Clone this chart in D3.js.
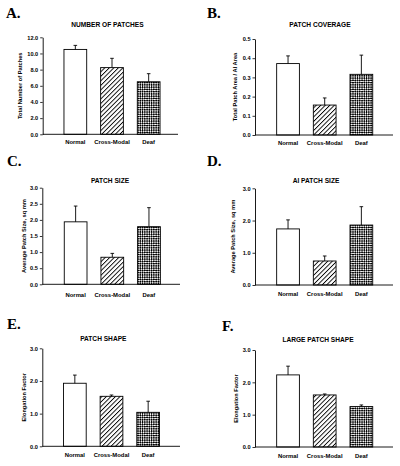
<!DOCTYPE html>
<html>
<head>
<meta charset="utf-8">
<script src="https://cdn.jsdelivr.net/npm/d3@7"></script>
<style>
  html, body { margin: 0; padding: 0; background: #fff; }
  svg { display: block; }
  text { font-family: "Liberation Sans", Arial, sans-serif; fill: #000; }
</style>
</head>
<body>
<svg id="chart" width="400" height="466"></svg>
<script>
// ---------- DATA ----------
const categories = ["Normal", "Cross-Modal", "Deaf"];

const numPatchesValues = [10.5, 8.25, 6.5];
const numPatchesErrors = [0.5, 1.15, 1.0];
const numPatchesTicks = [0, 2, 4, 6, 8, 10, 12];

const coverageValues = [0.372, 0.156, 0.316];
const coverageErrors = [0.040, 0.037, 0.100];
const coverageTicks = [0, 0.1, 0.2, 0.3, 0.4, 0.5];

const patchSizeValues = [1.94, 0.84, 1.79];
const patchSizeErrors = [0.49, 0.12, 0.59];
const patchSizeTicks = [0, 0.5, 1.0, 1.5, 2.0, 2.5, 3.0];

const aiPatchSizeValues = [1.74, 0.745, 1.86];
const aiPatchSizeErrors = [0.28, 0.155, 0.57];
const aiPatchSizeTicks = [0, 1, 2, 3];

const patchShapeValues = [1.93, 1.53, 1.04];
const patchShapeErrors = [0.25, 0.04, 0.34];
const patchShapeTicks = [0, 1, 2, 3];

const largePatchShapeValues = [2.23, 1.61, 1.25];
const largePatchShapeErrors = [0.27, 0.03, 0.05];
const largePatchShapeTicks = [0, 1, 2, 3];

const panelLetters = ["A.", "B.", "C.", "D.", "E.", "F."];
const panelTitles = ["NUMBER OF PATCHES", "PATCH COVERAGE", "PATCH SIZE", "AI PATCH SIZE", "PATCH SHAPE", "LARGE PATCH SHAPE"];
const yAxisLabels = ["Total Number of Patches", "Total Patch Area / AI Area", "Average Patch Size, sq mm", "Average Patch Size, sq mm", "Elongation Factor", "Elongation Factor"];

// ---------- LAYOUT (positions only) ----------
const layouts = [
  { ax: 42.7, top: 37.3, bottom: 134.3, r0: 57.0, xEnd: 178, titleX: 107.5, titleY: 26.5, ylabX: 20.5, lx: 6, ly: 18, xlabY: 144.0 },
  { ax: 255.0, top: 39.0, bottom: 135.0, r0: 269.7, xEnd: 393, titleX: 320, titleY: 26.5, ylabX: 235, lx: 207, ly: 18, xlabY: 145.0 },
  { ax: 42.3, top: 187.7, bottom: 284.3, r0: 57.3, xEnd: 180, titleX: 110, titleY: 182.5, ylabX: 24, lx: 7, ly: 166, xlabY: 296.5 },
  { ax: 255.0, top: 188.3, bottom: 285.0, r0: 269.7, xEnd: 393, titleX: 316, titleY: 182.5, ylabX: 233, lx: 207, ly: 166, xlabY: 295.5 },
  { ax: 42.3, top: 348.3, bottom: 446.3, r0: 56.5, xEnd: 180, titleX: 103.3, titleY: 340.5, ylabX: 24, lx: 7, ly: 328.5, xlabY: 456.5 },
  { ax: 255.0, top: 350.0, bottom: 447.0, r0: 269.7, xEnd: 393, titleX: 318, titleY: 341.5, ylabX: 236, lx: 222, ly: 331, xlabY: 457.5 }
];

const panelData = [
  { values: numPatchesValues, errors: numPatchesErrors, ticks: numPatchesTicks },
  { values: coverageValues, errors: coverageErrors, ticks: coverageTicks },
  { values: patchSizeValues, errors: patchSizeErrors, ticks: patchSizeTicks },
  { values: aiPatchSizeValues, errors: aiPatchSizeErrors, ticks: aiPatchSizeTicks },
  { values: patchShapeValues, errors: patchShapeErrors, ticks: patchShapeTicks },
  { values: largePatchShapeValues, errors: largePatchShapeErrors, ticks: largePatchShapeTicks }
];

const svg = d3.select("#chart");
const defs = svg.append("defs");

// diagonal hatch ///
const hatch = defs.append("pattern")
  .attr("id", "hatch").attr("patternUnits", "userSpaceOnUse")
  .attr("width", 3.2).attr("height", 3.2)
  .attr("patternTransform", "rotate(45)");
hatch.append("rect").attr("width", 3.2).attr("height", 3.2).attr("fill", "#fff");
hatch.append("line").attr("x1", 0).attr("y1", 0).attr("x2", 0).attr("y2", 3.2)
  .attr("stroke", "#000").attr("stroke-width", 1.8);

// checkerboard rotated 45 degrees
const checker = defs.append("pattern")
  .attr("id", "checker").attr("patternUnits", "userSpaceOnUse")
  .attr("width", 3.2).attr("height", 3.2)
  .attr("patternTransform", "rotate(45)");
checker.append("rect").attr("width", 3.2).attr("height", 3.2).attr("fill", "#fff");
checker.append("rect").attr("x", 0).attr("y", 0).attr("width", 1.75).attr("height", 1.75).attr("fill", "#000");
checker.append("rect").attr("x", 1.6).attr("y", 1.6).attr("width", 1.75).attr("height", 1.75).attr("fill", "#000");

const fills = ["#fff", "url(#hatch)", "url(#checker)"];

panelData.forEach((pd, i) => {
  const L = layouts[i];
  const g = svg.append("g");
  const maxV = pd.ticks[pd.ticks.length - 1];

  const y = d3.scaleLinear().domain([0, maxV]).range([L.bottom, L.top]);
  const x = d3.scaleBand().domain(categories)
    .range([L.r0, L.r0 + 110]).paddingInner(0.38).paddingOuter(0.19);

  // panel letter
  g.append("text").attr("x", L.lx).attr("y", L.ly)
    .style("font-family", "'Liberation Serif', 'DejaVu Serif', serif")
    .style("font-weight", "bold").style("font-size", "15px")
    .text(panelLetters[i]);

  // title
  g.append("text").attr("x", L.titleX).attr("y", L.titleY)
    .attr("text-anchor", "middle")
    .style("font-weight", "bold").style("font-size", "6.6px")
    .text(panelTitles[i]);

  // y axis
  const yAxis = d3.axisLeft(y).tickValues(pd.ticks)
    .tickFormat(d3.format(".1f")).tickSize(2.5).tickSizeOuter(0).tickPadding(2);
  const ya = g.append("g").attr("transform", `translate(${L.ax},0)`).call(yAxis);
  ya.select(".domain").attr("stroke", "#000").attr("stroke-width", 0.9);
  ya.selectAll(".tick line").attr("stroke", "#000").attr("stroke-width", 0.8);
  ya.selectAll(".tick text")
    .style("font-family", "'Liberation Sans', Arial, sans-serif")
    .style("font-size", "5.6px").style("font-weight", "bold").attr("fill", "#000");

  // y label
  g.append("text")
    .attr("transform", `translate(${L.ylabX},${(L.top + L.bottom) / 2}) rotate(-90)`)
    .attr("text-anchor", "middle").attr("dominant-baseline", "middle")
    .style("font-weight", "bold").style("font-size", "5.7px")
    .text(yAxisLabels[i]);

  // bars
  g.selectAll("rect.bar").data(categories).enter().append("rect")
    .attr("class", "bar")
    .attr("x", d => x(d))
    .attr("width", x.bandwidth())
    .attr("y", (d, j) => y(pd.values[j]))
    .attr("height", (d, j) => y(0) - y(pd.values[j]))
    .attr("fill", (d, j) => fills[j])
    .attr("stroke", "#000").attr("stroke-width", 0.9);

  // error bars (upper)
  categories.forEach((c, j) => {
    const cx = x(c) + x.bandwidth() / 2;
    const yv = y(pd.values[j]);
    const ye = y(pd.values[j] + pd.errors[j]);
    g.append("line").attr("x1", cx).attr("x2", cx).attr("y1", yv).attr("y2", ye)
      .attr("stroke", "#000").attr("stroke-width", 0.9);
    g.append("line").attr("x1", cx - 1.8).attr("x2", cx + 1.8).attr("y1", ye).attr("y2", ye)
      .attr("stroke", "#000").attr("stroke-width", 0.9);
  });

  // x axis baseline
  g.append("line").attr("x1", L.ax).attr("x2", L.xEnd)
    .attr("y1", y(0)).attr("y2", y(0))
    .attr("stroke", "#000").attr("stroke-width", 0.9);

  // category labels
  g.selectAll("text.cat").data(categories).enter().append("text")
    .attr("class", "cat")
    .attr("x", d => x(d) + x.bandwidth() / 2)
    .attr("y", L.xlabY)
    .attr("text-anchor", "middle")
    .style("font-weight", "bold").style("font-size", "5.9px")
    .text(d => d);
});
</script>
</body>
</html>
